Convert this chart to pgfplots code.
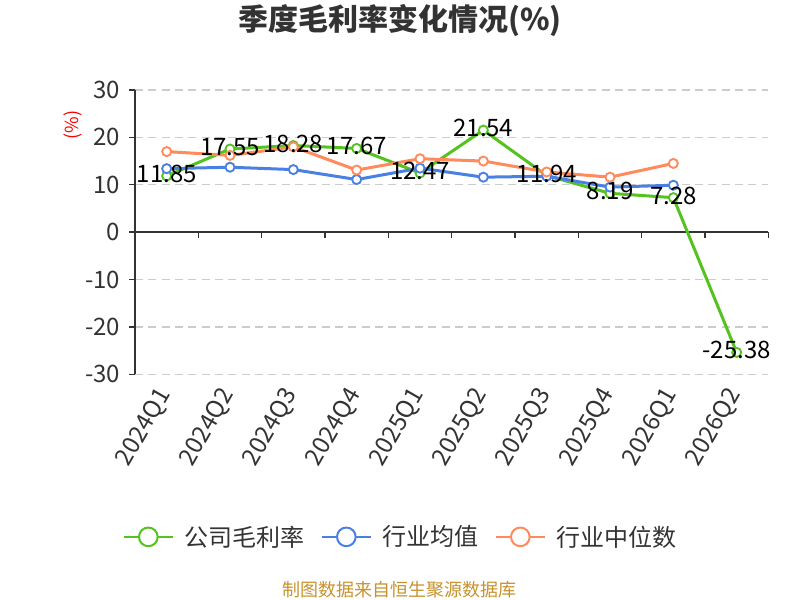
\documentclass[border=0pt]{standalone}
\usepackage{pgfplots}
\pgfplotsset{compat=1.18}
\usepackage{pgfplotstable}
\usepackage{fontspec}
\setmainfont{Noto Sans CJK SC}
\definecolor{cgreen}{HTML}{55C31F}
\definecolor{cblue}{HTML}{4A7FE3}
\definecolor{corange}{HTML}{FF8A5B}
\definecolor{axiscol}{HTML}{333333}
\definecolor{gridcol}{HTML}{CCCCCC}
\definecolor{srccol}{HTML}{C8922A}

\pgfplotstableread{
x y lab
0 11.85 11.85
1 17.55 17.55
2 18.28 18.28
3 17.67 17.67
4 12.47 12.47
5 21.54 21.54
6 11.94 11.94
7 8.19 8.19
8 7.28 7.28
9 -25.38 -25.38
}\gross
\pgfplotstableread{
x y
0 13.4
1 13.7
2 13.2
3 11.1
4 13.5
5 11.6
6 11.8
7 9.5
8 9.9
}\avg
\pgfplotstableread{
x y
0 17.0
1 16.2
2 18.0
3 13.1
4 15.5
5 15.0
6 12.7
7 11.6
8 14.5
}\med

\begin{document}
\begin{tikzpicture}
\path[use as bounding box] (0,0) rectangle (600pt,450pt);
\begin{axis}[
  at={(101.25pt,169.3pt)}, anchor=south west,
  scale only axis, width=475pt, height=213.2pt,
  xmin=-0.5, xmax=9.5, ymin=-30, ymax=30,
  axis y line*=left, axis x line*=bottom,
  x axis line style={draw=none},
  y axis line style={axiscol, line width=1.1pt},
  ytick={-30,-20,-10,0,10,20,30},
  yticklabels={-30,-20,-10,0,10,20,30},
  yticklabel style={font=\fontsize{18}{18}\selectfont, text=axiscol, xshift=-3pt},
  ytick style={axiscol, line width=1.1pt},
  tick align=outside,
  major tick length=4.5pt,
  xtick={0,...,9},
  xticklabels={2024Q1,2024Q2,2024Q3,2024Q4,2025Q1,2025Q2,2025Q3,2025Q4,2026Q1,2026Q2},
  xtick style={draw=none},
  xticklabel style={rotate=60, anchor=east, font=\fontsize{18}{18}\selectfont, text=axiscol, yshift=-3pt, xshift=-4pt},
  ymajorgrids,
  grid style={gridcol, dashed, line width=1.1pt, dash pattern=on 6pt off 4pt},
  clip=false,
  ylabel={(\%)},
  ylabel style={at={(axis description cs:-0.098,0.877)}, anchor=center, rotate=0, text=red, font=\fontsize{13.5}{13.5}\selectfont},
  legend columns=3,
  legend style={at={(axis description cs:0.42,-0.572)}, anchor=center, draw=none, fill=none,
    font=\fontsize{18}{18}\selectfont, text=axiscol,
    /tikz/every odd column/.append style={column sep=6pt},
    /tikz/every even column/.append style={column sep=10pt}},
]
\draw[axiscol, line width=1.1pt] (axis cs:-0.5,0) -- (axis cs:9.5,0);
\pgfplotsinvokeforeach{0.5,1.5,2.5,3.5,4.5,5.5,6.5,7.5,8.5,9.5}{
  \draw[axiscol, line width=1.1pt] (axis cs:#1,0) -- ++(0pt,-4.5pt);
}
\addplot[cgreen, line width=2.25pt, mark=*, mark size=3.4pt,
  mark options={fill=white, draw=cgreen, line width=1.4pt},
  legend image code/.code={
    \draw[cgreen, line width=1.5pt] (0pt,0pt) -- (37pt,0pt);
    \draw[cgreen, line width=1.5pt, fill=white] (18.5pt,0pt) circle (7pt);}
] table[x=x, y=y] {\gross};
\addlegendentry{公司毛利率}
\addplot[cblue, line width=2.25pt, mark=*, mark size=3.4pt,
  mark options={fill=white, draw=cblue, line width=1.4pt},
  legend image code/.code={
    \draw[cblue, line width=1.5pt] (0pt,0pt) -- (37pt,0pt);
    \draw[cblue, line width=1.5pt, fill=white] (18.5pt,0pt) circle (7pt);}
] table[x=x, y=y] {\avg};
\addlegendentry{行业均值}
\addplot[corange, line width=2.25pt, mark=*, mark size=3.4pt,
  mark options={fill=white, draw=corange, line width=1.4pt},
  legend image code/.code={
    \draw[corange, line width=1.5pt] (0pt,0pt) -- (37pt,0pt);
    \draw[corange, line width=1.5pt, fill=white] (18.5pt,0pt) circle (7pt);}
] table[x=x, y=y] {\med};
\addlegendentry{行业中位数}
\addplot[draw=none, mark=none, forget plot,
  nodes near coords, point meta=explicit symbolic,
  every node near coord/.append style={anchor=center, yshift=1.5pt, text=black, font=\fontsize{18}{18}\selectfont}
] table[x=x, y=y, meta=lab] {\gross};
\node[anchor=base, text=axiscol, font=\fontsize{22.5}{22.5}\selectfont\bfseries] at (axis description cs:0.4184,1.211) {季度毛利率变化情况(\%)};
\node[text=srccol, font=\fontsize{13.5}{13.5}\selectfont] at (axis description cs:0.4184,-0.759) {制图数据来自恒生聚源数据库};
\end{axis}
\end{tikzpicture}
\end{document}
